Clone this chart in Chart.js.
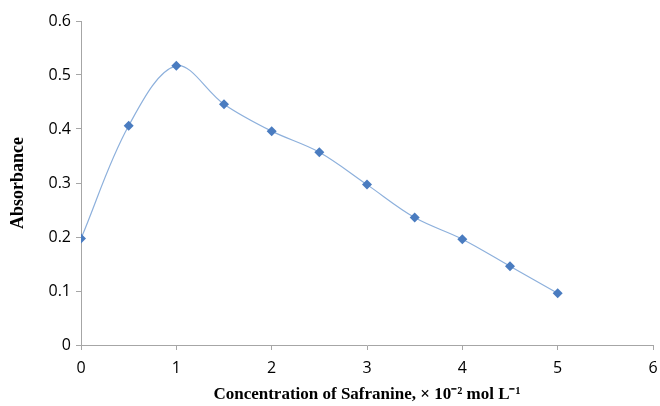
<!DOCTYPE html>
<html><head><meta charset="utf-8">
<script src="https://cdn.jsdelivr.net/npm/chart.js@4"></script>
<style>html,body{margin:0;padding:0;background:#fff}#wrap{width:660px;height:406px}</style>
</head><body><div id="wrap"><canvas id="c"></canvas></div>
<script>
const concentrations = [0, 0.5, 1, 1.5, 2, 2.5, 3, 3.5, 4, 4.5, 5];
const absorbance = [0.197, 0.406, 0.517, 0.446, 0.396, 0.357, 0.297, 0.236, 0.196, 0.146, 0.096];
const xTicks = [0, 1, 2, 3, 4, 5, 6];
const yTicks = [0, 0.1, 0.2, 0.3, 0.4, 0.5, 0.6];
const xTitle = 'Concentration of Safranine, \u00d7 10\u207b\u00b2 mol L\u207b\u00b9';
const yTitle = 'Absorbance';

const points = concentrations.map((x, i) => ({x: x, y: absorbance[i]}));
new Chart(document.getElementById('c'), {
  type: 'scatter',
  data: { datasets: [{
    data: points, showLine: true, tension: 0.35,
    borderColor: '#8db0dc', borderWidth: 1.2,
    pointStyle: 'rectRot', pointRadius: 5, pointHoverRadius: 5,
    pointBackgroundColor: '#4a7cc0', pointBorderColor: '#4a7cc0', pointBorderWidth: 0
  }]},
  options: {
    responsive: true, maintainAspectRatio: false, animation: false,
    layout: { padding: { top: 21, right: 7, left: 0, bottom: 0 } },
    plugins: { legend: { display: false }, tooltip: { enabled: false } },
    scales: {
      x: {
        type: 'linear', min: 0, max: 6,
        afterBuildTicks: s => { s.ticks = xTicks.map(v => ({value: v})); },
        afterFit: s => { s.height = 61; },
        border: { color: '#a6a6a6', width: 1 },
        grid: { drawOnChartArea: false, tickLength: 5, color: '#a6a6a6' },
        ticks: { color: '#000', font: { family: 'Open Sans', size: 16, lineHeight: 2.1 }, padding: 2 },
        title: { display: true, text: xTitle, color: '#000', font: { family: 'Liberation Serif', size: 17, weight: 'bold' }, padding: { top: 4, bottom: 1 } }
      },
      y: {
        min: 0, max: 0.6,
        afterBuildTicks: s => { s.ticks = yTicks.map(v => ({value: v})); },
        afterFit: s => { s.width = 81; },
        border: { color: '#a6a6a6', width: 1 },
        grid: { drawOnChartArea: false, tickLength: 5, color: '#a6a6a6' },
        ticks: { color: '#000', font: { family: 'Open Sans', size: 16 }, padding: 5,
          callback: v => (v === 0 ? '0' : v.toFixed(1)) },
        title: { display: true, text: yTitle, color: '#000', font: { family: 'Liberation Serif', size: 18, weight: 'bold' }, padding: { top: 8, bottom: 0 } }
      }
    }
  }
});
</script></body></html>
